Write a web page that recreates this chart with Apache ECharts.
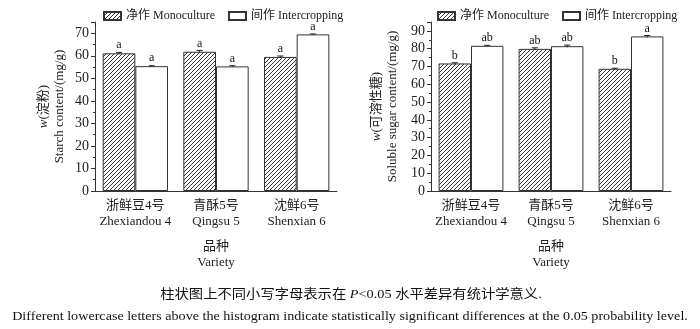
<!DOCTYPE html>
<html>
<head>
<meta charset="utf-8">
<script src="https://cdn.jsdelivr.net/npm/echarts@6/dist/echarts.min.js"></script>
<style>
  html, body { margin: 0; padding: 0; background: #fff; }
  #main { width: 700px; height: 329px; }
</style>
</head>
<body>
<div id="main"></div>
<script>
const varieties = ['浙鲜豆4号\nZhexiandou 4', '青酥5号\nQingsu 5', '沈鲜6号\nShenxian 6'];
const seriesNames = ['净作 Monoculture', '间作 Intercropping'];

// 淀粉 starch content (mg/g)
const starchMono = [61.1, 61.8, 59.5];
const starchInter = [55.4, 55.3, 69.5];
const starchMonoErr = [0.4, 0.6, 0.4];
const starchInterErr = [0.2, 0.3, 0.2];
const starchMonoLetters = ['a', 'a', 'a'];
const starchInterLetters = ['a', 'a', 'a'];

// 可溶性糖 soluble sugar content (mg/g)
const sugarMono = [71.7, 79.9, 68.7];
const sugarInter = [81.6, 81.4, 86.9];
const sugarMonoErr = [0.4, 0.6, 0.3];
const sugarInterErr = [0.3, 0.6, 0.5];
const sugarMonoLetters = ['b', 'ab', 'b'];
const sugarInterLetters = ['ab', 'ab', 'a'];

const serif = '"Liberation Serif", "Noto Sans CJK SC", serif';

// 斜线填充
const makeHatch = () => {
  const s = 4;
  const c = document.createElement('canvas');
  c.width = s;
  c.height = s;
  const ctx = c.getContext('2d');
  ctx.fillStyle = '#fff';
  ctx.fillRect(0, 0, s, s);
  ctx.strokeStyle = '#333';
  ctx.lineWidth = 1;
  ctx.beginPath();
  ctx.moveTo(0, s);
  ctx.lineTo(s, 0);
  ctx.moveTo(-1, 1);
  ctx.lineTo(1, -1);
  ctx.moveTo(s - 1, s + 1);
  ctx.lineTo(s + 1, s - 1);
  ctx.stroke();
  return c;
};
const hatch = { image: makeHatch(), repeat: 'repeat' };

const catGap = 0.19;

const errSeries = (idx, values, errs, side) => ({
  type: 'custom',
  xAxisIndex: idx,
  yAxisIndex: idx,
  silent: true,
  z: 5,
  data: values.map((v, i) => [i, v, errs[i]]),
  renderItem: (params, api) => {
    const band = api.size([1, 0])[0];
    const barW = band * (1 - catGap) / 2;
    const c = api.coord([api.value(0), api.value(1)]);
    const x = c[0] + side * barW / 2;
    const hi = api.coord([api.value(0), api.value(1) + api.value(2)])[1];
    const lo = api.coord([api.value(0), api.value(1) - api.value(2)])[1];
    const st = { stroke: '#222', lineWidth: 1 };
    return {
      type: 'group',
      children: [
        { type: 'line', shape: { x1: x, y1: hi, x2: x, y2: lo }, style: st },
        { type: 'line', shape: { x1: x - 3, y1: hi, x2: x + 3, y2: hi }, style: st },
      ],
    };
  },
});

const barSeries = (idx, name, values, letters, color) => ({
  name,
  type: 'bar',
  xAxisIndex: idx,
  yAxisIndex: idx,
  data: values,
  barGap: 0,
  barCategoryGap: (catGap * 100) + '%',
  itemStyle: { color, borderColor: '#333', borderWidth: 1 },
  label: {
    show: true,
    position: 'top',
    distance: 2,
    color: '#111',
    fontFamily: serif,
    fontSize: 12,
    formatter: (p) => letters[p.dataIndex],
  },
});

const axisLine = { show: true, lineStyle: { color: '#333', width: 1 } };

const makeX = (idx) => ({
  type: 'category',
  gridIndex: idx,
  data: varieties,
  axisLine,
  axisTick: { show: false },
  axisLabel: { interval: 0, color: '#222', fontFamily: serif, fontSize: 13, lineHeight: 16, margin: 7 },
  name: '品种\nVariety',
  nameLocation: 'middle',
  nameGap: 48,
  nameTextStyle: { color: '#222', fontFamily: serif, fontSize: 13, lineHeight: 16, verticalAlign: 'top' },
});

const makeY = (idx, max, cn, en, gap) => ({
  type: 'value',
  gridIndex: idx,
  min: 0,
  max,
  interval: 10,
  axisLine,
  axisTick: { show: true, length: 4, lineStyle: { color: '#333' } },
  minorTick: { show: true, splitNumber: 2, length: 2, lineStyle: { color: '#333' } },
  splitLine: { show: false },
  axisLabel: {
    color: '#222',
    fontFamily: serif,
    fontSize: 14,
    margin: 6,
    formatter: (v) => (v % 10 === 0 ? String(v) : ''),
  },
  name: '{it|w}(' + cn + ')\n' + en,
  nameLocation: 'middle',
  nameRotate: 90,
  nameGap: gap,
  nameTextStyle: {
    color: '#222',
    fontFamily: serif,
    fontSize: 13,
    lineHeight: 16,
    rich: { it: { fontStyle: 'italic', fontFamily: serif, fontSize: 13 } },
  },
});

const makeLegend = (left) => ({
  left,
  top: 10,
  padding: 0,
  itemWidth: 17,
  itemHeight: 8,
  itemGap: 13,
  icon: 'rect',
  data: seriesNames,
  textStyle: { color: '#222', fontFamily: serif, fontSize: 12 },
});

const myChart = echarts.init(document.getElementById('main'), null, { renderer: 'canvas' });

const option = {
  animation: false,
  backgroundColor: '#fff',
  legend: [makeLegend(103), makeLegend(437)],
  grid: [
    { left: 95, right: 363, top: 22, bottom: 138 },
    { left: 431, right: 29, top: 22, bottom: 138 },
  ],
  xAxis: [makeX(0), makeX(1)],
  yAxis: [
    makeY(0, 75, '淀粉', 'Starch content/(mg/g)', 27),
    makeY(1, 95, '可溶性糖', 'Soluble sugar content/(mg/g)', 30),
  ],
  series: [
    barSeries(0, seriesNames[0], starchMono, starchMonoLetters, hatch),
    barSeries(0, seriesNames[1], starchInter, starchInterLetters, '#fff'),
    barSeries(1, seriesNames[0], sugarMono, sugarMonoLetters, hatch),
    barSeries(1, seriesNames[1], sugarInter, sugarInterLetters, '#fff'),
    errSeries(0, starchMono, starchMonoErr, -1),
    errSeries(0, starchInter, starchInterErr, 1),
    errSeries(1, sugarMono, sugarMonoErr, -1),
    errSeries(1, sugarInter, sugarInterErr, 1),
  ],
  graphic: [
    {
      type: 'text',
      x: 351,
      y: 295,
      scaleX: 1.1,
      style: {
        text: '柱状图上不同小写字母表示在 {it|P}<0.05 水平差异有统计学意义.',
        fontFamily: serif,
        fontSize: 13,
        fill: '#111',
        align: 'center',
        verticalAlign: 'middle',
        rich: { it: { fontStyle: 'italic', fontFamily: serif, fontSize: 13 } },
      },
    },
    {
      type: 'text',
      x: 350,
      y: 317,
      scaleX: 1.13,
      style: {
        text: 'Different lowercase letters above the histogram indicate statistically significant differences at the 0.05 probability level.',
        fontFamily: serif,
        fontSize: 12.5,
        fill: '#111',
        align: 'center',
        verticalAlign: 'middle',
      },
    },
  ],
};
myChart.setOption(option);
</script>
</body>
</html>
